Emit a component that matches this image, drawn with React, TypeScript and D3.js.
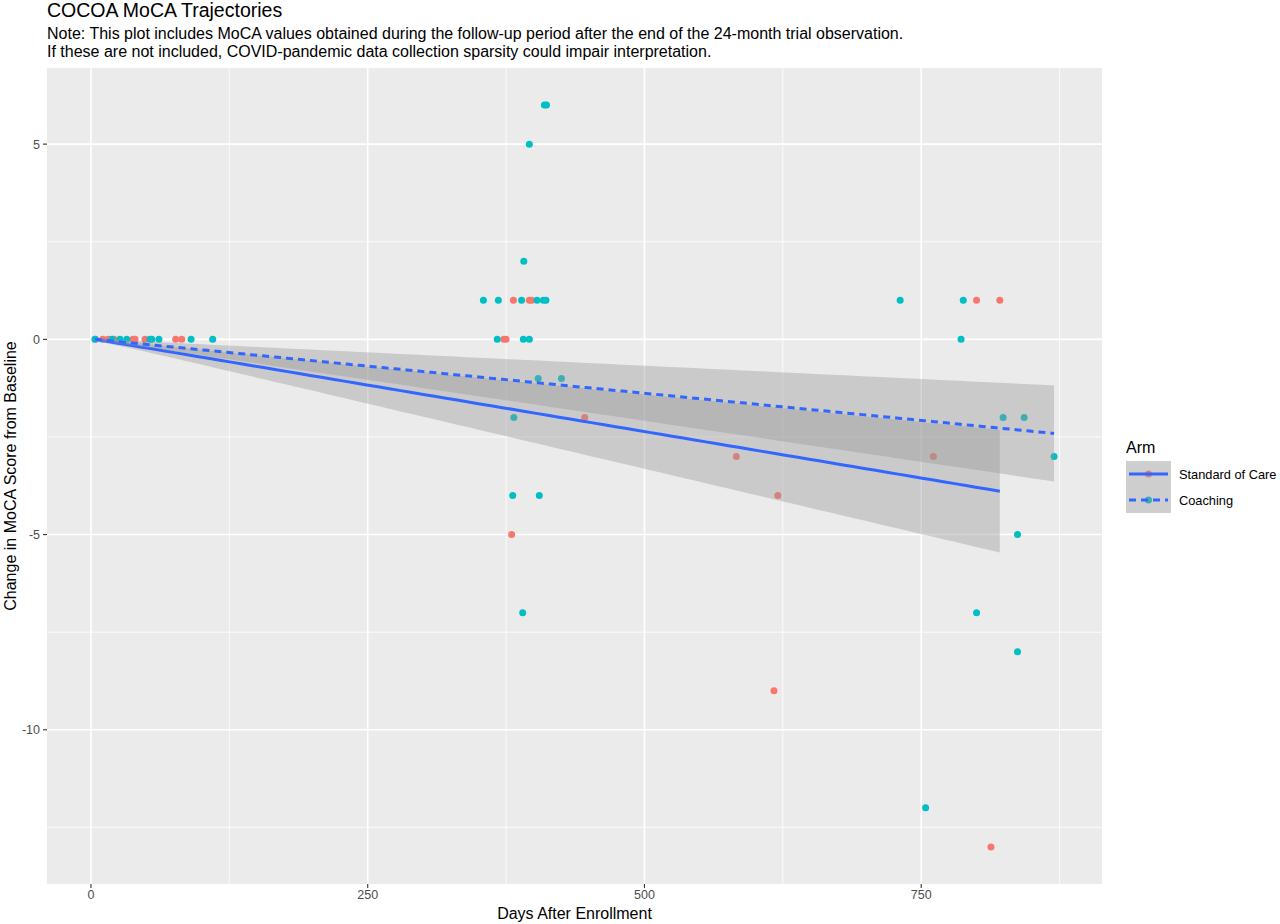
import React from "react";
import * as d3 from "d3";

// ---- Data ----
const socDays = [4, 10.6, 15.4, 20.8, 38, 39.8, 48.8, 76.5, 82, 373, 375, 381.6, 396, 398, 446, 380, 583, 620.5, 617, 761, 800, 821, 813];
const socValues = [0, 0, 0, 0, 0, 0, 0, 0, 0, 0, 0, 1, 1, 1, -2, -5, -3, -4, -9, -3, 1, 1, -13];

const coachDays = [3.6, 19, 26.2, 32.3, 53.3, 55, 61.4, 90.4, 110, 367, 390.6, 396, 354.5, 368, 389, 403, 408.7, 411, 391, 396, 409.6, 411.5, 404, 425, 382, 381, 405, 390, 731, 788, 786, 824, 843, 870, 837, 800, 837, 754];
const coachValues = [0, 0, 0, 0, 0, 0, 0, 0, 0, 0, 0, 0, 1, 1, 1, 1, 1, 1, 2, 5, 6, 6, -1, -1, -2, -4, -4, -7, 1, 1, 0, -2, -2, -3, -5, -7, -8, -12];

// Linear fit (start/end of fitted line) and 95% CI half-widths
const socFitDays = [4, 821];
const socFitValues = [0, -3.89];
const socFitHalfWidth = [0.05, 1.57];
const coachFitDays = [3.6, 870];
const coachFitValues = [0, -2.41];
const coachFitHalfWidth = [0.04, 1.23];

const armNames = ["Standard of Care", "Coaching"];
const armColors = ["#F8766D", "#00BFC4"];
const xMajorTicks = [0, 250, 500, 750];
const xMinorTicks = [125, 375, 625, 875];
const yMajorTicks = [5, 0, -5, -10];
const yMinorTicks = [2.5, -2.5, -7.5, -12.5];

const titleText = "COCOA MoCA Trajectories";
const subtitleLines = [
  "Note: This plot includes MoCA values obtained during the follow-up period after the end of the 24-month trial observation.",
  "If these are not included, COVID-pandemic data collection sparsity could impair interpretation.",
];
const xTitle = "Days After Enrollment";
const yTitle = "Change in MoCA Score from Baseline";
const legendTitle = "Arm";

// ---- Layout ----
const W = 1280;
const H = 924;
const P = { left: 47, right: 1102, top: 68, bottom: 884 };
const FONT = "'Liberation Sans', Arial, Helvetica, sans-serif";

function expand(ext: [number, number]): [number, number] {
  const r = ext[1] - ext[0];
  return [ext[0] - 0.05 * r, ext[1] + 0.05 * r];
}

export default function App() {
  const allX = [...socDays, ...coachDays];
  const allY = [...socValues, ...coachValues];
  const x = d3.scaleLinear().domain(expand(d3.extent(allX) as [number, number])).range([P.left, P.right]);
  const y = d3.scaleLinear().domain(expand(d3.extent(allY) as [number, number])).range([P.bottom, P.top]);

  const fits = [
    { days: socFitDays, vals: socFitValues, hw: socFitHalfWidth, dash: undefined as string | undefined },
    { days: coachFitDays, vals: coachFitValues, hw: coachFitHalfWidth, dash: "7 5" },
  ];

  const fitPaths = fits.map((f) => {
    const n = 80;
    const pts = d3.range(n + 1).map((i) => {
      const t = i / n;
      const d = f.days[0] + t * (f.days[1] - f.days[0]);
      const v = f.vals[0] + t * (f.vals[1] - f.vals[0]);
      const h = Math.sqrt(f.hw[0] * f.hw[0] + t * t * (f.hw[1] * f.hw[1] - f.hw[0] * f.hw[0]));
      return { d, v, lo: v - h, hi: v + h };
    });
    const area = d3
      .area<any>()
      .x((p) => x(p.d))
      .y0((p) => y(p.lo))
      .y1((p) => y(p.hi))(pts) as string;
    const line = d3
      .line<any>()
      .x((p) => x(p.d))
      .y((p) => y(p.v))(pts) as string;
    return { area, line, dash: f.dash };
  });

  const series = [
    { days: socDays, vals: socValues, color: armColors[0] },
    { days: coachDays, vals: coachValues, color: armColors[1] },
  ];

  const pointsLayer: JSX.Element[] = [];
  series.forEach((s, si) =>
    s.days.forEach((d, i) => {
      pointsLayer.push(<circle key={`p${si}-${i}`} cx={x(d)} cy={y(s.vals[i])} r={3.5} fill={s.color} />);
    })
  );

  const legX = 1126;
  const legKeyW = 45;
  const legKeyH = 26;
  const legY0 = 461;

  return (
    <svg width={W} height={H} style={{ position: "absolute", left: 0, top: 0, background: "#fff" }} fontFamily={FONT}>
      <rect x={0} y={0} width={W} height={H} fill="#FFFFFF" />
      {/* Titles */}
      <text x={47} y={17} fontSize={19.5} fill="#000">{titleText}</text>
      {subtitleLines.map((t, i) => (
        <text key={i} x={47} y={39 + i * 18} fontSize={16} fill="#000">{t}</text>
      ))}

      {/* Panel */}
      <rect x={P.left} y={P.top} width={P.right - P.left} height={P.bottom - P.top} fill="#EBEBEB" />
      {xMinorTicks.map((t) => (
        <line key={`xm${t}`} x1={x(t)} x2={x(t)} y1={P.top} y2={P.bottom} stroke="#fff" strokeWidth={0.8} />
      ))}
      {yMinorTicks.map((t) => (
        <line key={`ym${t}`} y1={y(t)} y2={y(t)} x1={P.left} x2={P.right} stroke="#fff" strokeWidth={0.8} />
      ))}
      {xMajorTicks.map((t) => (
        <line key={`xM${t}`} x1={x(t)} x2={x(t)} y1={P.top} y2={P.bottom} stroke="#fff" strokeWidth={1.6} />
      ))}
      {yMajorTicks.map((t) => (
        <line key={`yM${t}`} y1={y(t)} y2={y(t)} x1={P.left} x2={P.right} stroke="#fff" strokeWidth={1.6} />
      ))}

      {/* Points */}
      {pointsLayer}

      {/* Smooths: ribbon + line per group */}
      {fitPaths.map((f, i) => (
        <g key={`fit${i}`}>
          <path d={f.area} fill="#999999" fillOpacity={0.4} stroke="none" />
          <path d={f.line} fill="none" stroke="#3366FF" strokeWidth={3} strokeDasharray={f.dash} />
        </g>
      ))}

      {/* Axes ticks */}
      {xMajorTicks.map((t) => (
        <g key={`xt${t}`}>
          <line x1={x(t)} x2={x(t)} y1={P.bottom} y2={P.bottom + 4} stroke="#333" strokeWidth={1.1} />
          <text x={x(t)} y={P.bottom + 15} fontSize={12.5} fill="#4D4D4D" textAnchor="middle">{t}</text>
        </g>
      ))}
      {yMajorTicks.map((t) => (
        <g key={`yt${t}`}>
          <line x1={P.left - 4} x2={P.left} y1={y(t)} y2={y(t)} stroke="#333" strokeWidth={1.1} />
          <text x={P.left - 7} y={y(t) + 4.5} fontSize={12.5} fill="#4D4D4D" textAnchor="end">{t}</text>
        </g>
      ))}

      {/* Axis titles */}
      <text x={(P.left + P.right) / 2} y={919} fontSize={16} fill="#000" textAnchor="middle">{xTitle}</text>
      <text transform={`translate(16, ${(P.top + P.bottom) / 2}) rotate(-90)`} fontSize={16} fill="#000" textAnchor="middle">{yTitle}</text>

      {/* Legend */}
      <text x={legX} y={453} fontSize={16} fill="#000">{legendTitle}</text>
      {armNames.map((name, i) => {
        const ky = legY0 + i * legKeyH;
        const cy = ky + legKeyH / 2;
        return (
          <g key={`leg${i}`}>
            <rect x={legX} y={ky} width={legKeyW} height={legKeyH} fill="#F2F2F2" />
            <circle cx={legX + legKeyW / 2} cy={cy} r={3.5} fill={armColors[i]} />
            <rect x={legX} y={ky} width={legKeyW} height={legKeyH} fill="#999999" fillOpacity={0.4} />
            <line x1={legX + 3} x2={legX + legKeyW - 3} y1={cy} y2={cy} stroke="#3366FF" strokeWidth={3} strokeDasharray={fits[i].dash} />
            <text x={legX + legKeyW + 8} y={cy + 4.5} fontSize={12.8} fill="#000">{name}</text>
          </g>
        );
      })}
    </svg>
  );
}
